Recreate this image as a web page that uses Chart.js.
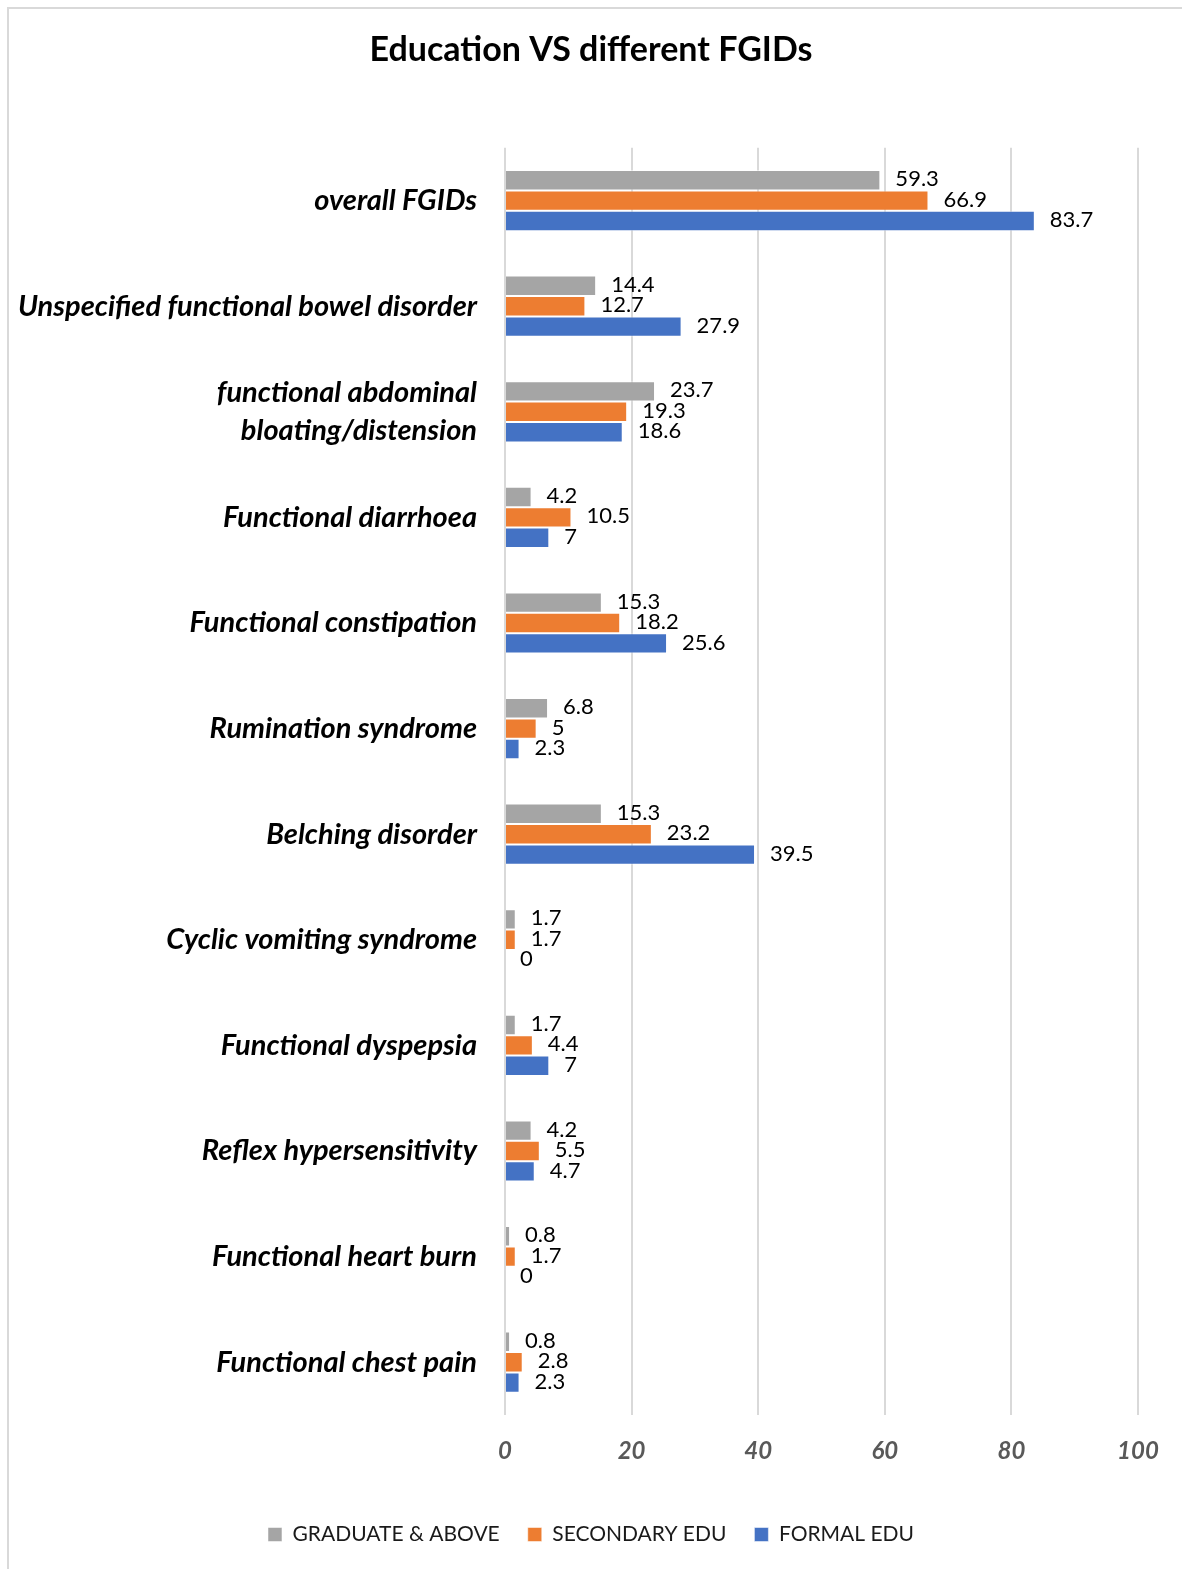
<!DOCTYPE html>
<html>
<head>
<meta charset="utf-8">
<script src="https://cdn.jsdelivr.net/npm/chart.js@4"></script>
<style>
  html, body { margin: 0; padding: 0; background: #fff; overflow: hidden; }
  #wrap { position: relative; width: 1182px; height: 1569px; }
  #frame { position: absolute; left: 7px; top: 7px; width: 1200px; height: 1600px; border: 2px solid #d9d9d9; box-sizing: border-box; pointer-events: none; }
</style>
</head>
<body>
<div id="wrap">
  <canvas id="fgidChart" width="1182" height="1569"></canvas>
  <div id="frame"></div>
</div>
<script>
const categories = [
    "overall FGIDs",
    "Unspecified functional bowel disorder",
    ["functional abdominal", "bloating/distension"],
    "Functional diarrhoea",
    "Functional constipation",
    "Rumination syndrome",
    "Belching disorder",
    "Cyclic vomiting syndrome",
    "Functional dyspepsia",
    "Reflex hypersensitivity",
    "Functional heart burn",
    "Functional chest pain"
];
const graduate = [59.3, 14.4, 23.7, 4.2, 15.3, 6.8, 15.3, 1.7, 1.7, 4.2, 0.8, 0.8];
const secondary = [66.9, 12.7, 19.3, 10.5, 18.2, 5, 23.2, 1.7, 4.4, 5.5, 1.7, 2.8];
const formal = [83.7, 27.9, 18.6, 7, 25.6, 2.3, 39.5, 0, 7, 4.7, 0, 2.3];

const FONT = "Lato, Calibri, 'Open Sans', sans-serif";

// labels drawn right of each bar end
const valueLabels = {
    id: "valueLabels",
    afterDatasetsDraw(chart) {
        const ctx = chart.ctx;
        ctx.save();
        ctx.font = "22px " + FONT;
        ctx.fillStyle = "#000";
        ctx.textBaseline = "middle";
        ctx.textAlign = "left";
        chart.data.datasets.forEach((ds, i) => {
            const meta = chart.getDatasetMeta(i);
            meta.data.forEach((bar, j) => {
                ctx.fillText(String(ds.data[j]), bar.x + 15, bar.y - 1);
            });
        });
        ctx.restore();
    }
};

function makeSet(label, data, color) {
    return {
        label: label,
        data: data,
        backgroundColor: color,
        borderColor: "rgba(255,255,255,0.5)",
        borderWidth: 1,
        barPercentage: 1,
        categoryPercentage: 0.58
    };
}

new Chart(document.getElementById("fgidChart").getContext("2d"), {
    type: "bar",
    data: {
        labels: categories,
        datasets: [
            makeSet("GRADUATE & ABOVE", graduate, "#a5a5a5"),
            makeSet("SECONDARY EDU", secondary, "#ed7d31"),
            makeSet("FORMAL EDU", formal, "#4472c4")
        ]
    },
    options: {
        indexAxis: "y",
        responsive: false,
        animation: false,
        layout: { padding: { left: 0, right: 0, top: 0, bottom: 14 } },
        scales: {
            x: {
                min: 0,
                max: 100,
                ticks: {
                    stepSize: 20,
                    color: "#595959",
                    padding: 22,
                    font: { family: FONT, size: 24, weight: "bold", style: "italic" }
                },
                grid: { color: "#d9d9d9", lineWidth: 2, drawTicks: false },
                border: { display: false },
                afterFit(scale) { scale.height = 81; scale.paddingRight = 44; }
            },
            y: {
                ticks: {
                    color: "#000",
                    padding: 28,
                    font: { family: FONT, size: 29, weight: "bold", style: "italic", lineHeight: 1.3 }
                },
                grid: { display: false, drawTicks: false },
                border: { display: false },
                afterFit(scale) { scale.width = 505; }
            }
        },
        plugins: {
            title: {
                display: true,
                text: "Education VS different FGIDs",
                color: "#000",
                font: { family: FONT, size: 34, weight: "bold" },
                padding: { top: 30, bottom: 77 }
            },
            legend: {
                position: "bottom",
                labels: {
                    color: "#1a1a1a",
                    boxWidth: 14,
                    boxHeight: 14,
                    padding: 28,
                    font: { family: FONT, size: 21 }
                }
            },
            tooltip: { enabled: false }
        }
    },
    plugins: [valueLabels]
});
</script>
</body>
</html>
